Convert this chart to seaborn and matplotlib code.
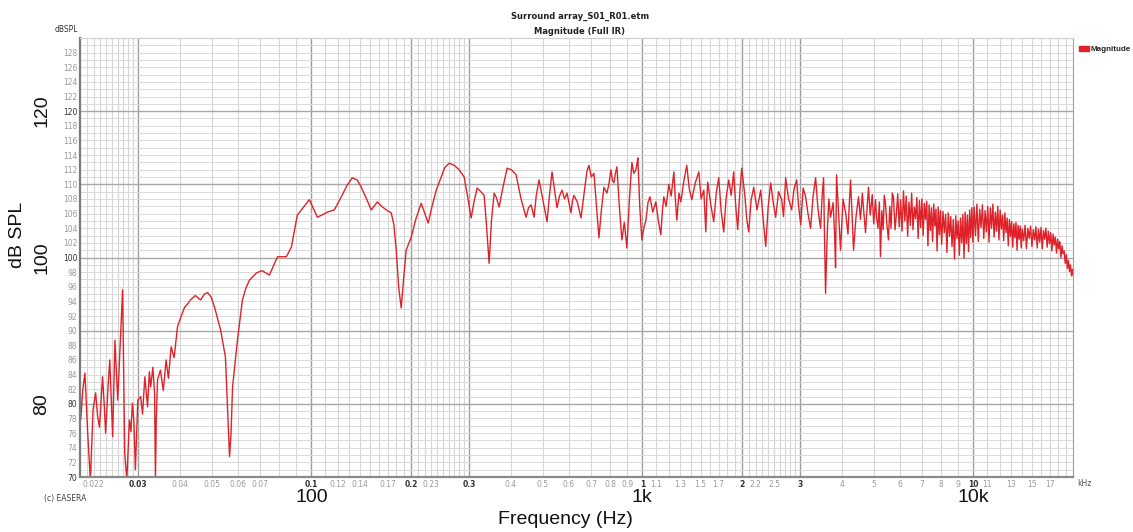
import matplotlib
matplotlib.use('Agg')
import numpy as np
import pandas as pd
import matplotlib.pyplot as plt
import seaborn as sns
from matplotlib.patches import Patch
from matplotlib.ticker import NullLocator

# magnitude trace (Hz, dB SPL)
# low end 20 Hz - 100 Hz
freq_low = [20.0, 20.1, 20.4, 20.7, 21.1, 21.5, 21.9, 22.3, 22.6, 22.9,
            23.4, 23.7, 23.9, 24.3, 24.6, 25.1, 25.5, 26.0, 26.5, 26.9,
            27.1, 27.3, 27.7, 28.2, 28.5, 28.8, 29.1, 29.4, 29.9, 30.5,
            30.9, 31.4, 32.0, 32.4, 32.7, 33.2, 33.6, 33.8, 34.0, 34.3,
            35.0, 35.7, 36.4, 37.0, 37.7, 38.5, 39.4, 40.3, 41.4, 42.2,
            43.1, 44.6, 46.3, 47.5, 48.6, 49.8, 51.0, 53.2, 55.0, 56.0,
            56.6, 57.2, 57.8, 59.8, 61.9, 63.4, 65.0, 68.3, 71.0, 74.7,
            79.0, 84.0, 87.0, 90.7, 98.6]
spl_low = [84.6, 77.8, 82.0, 84.2, 76.0, 69.5, 79.2, 81.5, 78.4, 76.8,
           83.7, 79.5, 76.0, 82.2, 86.0, 75.5, 88.7, 80.5, 89.1, 95.6,
           84.0, 73.3, 69.5, 77.8, 76.2, 80.1, 77.5, 71.0, 80.5, 81.0,
           78.6, 83.7, 79.6, 84.4, 82.3, 85.0, 81.5, 69.5, 78.0, 83.3,
           84.6, 81.8, 86.0, 83.5, 87.8, 86.3, 90.5, 91.8, 93.2, 93.6,
           94.2, 94.8, 94.2, 95.0, 95.2, 94.6, 93.2, 90.1, 86.4, 78.0,
           72.8, 76.0, 82.3, 88.7, 94.2, 95.8, 96.9, 97.9, 98.2, 97.6,
           100.1, 100.1, 101.4, 105.8, 107.9]

# 100 Hz - 1 kHz
freq_mid = [104.3, 111.8, 117.3, 123.2, 128.0, 132.9, 137.6, 141.5, 146.5, 151.7,
            158.2, 163.0, 168.4, 174.3, 177.5, 180.5, 183.5, 186.8, 189.5, 193.4,
            200.3, 207.0, 214.7, 219.5, 225.4, 231.0, 238.3, 246.7, 253.0, 260.9,
            270.0, 279.6, 289.5, 296.0, 303.9, 310.0, 316.8, 325.0, 332.6, 338.0,
            344.4, 350.0, 356.6, 362.0, 369.2, 378.0, 390.3, 402.0, 415.5, 430.0,
            445.3, 453.0, 461.1, 470.8, 478.0, 487.4, 500.0, 515.3, 524.0, 533.5,
            543.0, 552.3, 562.0, 571.9, 582.0, 592.1, 600.0, 608.8, 615.0, 621.6,
            637.0, 652.5, 668.0, 680.0, 689.7, 701.0, 714.1, 727.0, 739.3, 752.0,
            765.4, 781.5, 792.0, 803.5, 812.0, 820.4, 829.0, 837.7, 852.0, 867.3,
            882.0, 898.0, 914.0, 929.8, 942.0, 955.9, 963.0, 969.2, 982.0]
spl_mid = [105.5, 106.2, 106.5, 108.3, 109.8, 110.9, 110.6, 109.6, 108.1, 106.5,
           107.6, 107.0, 106.5, 106.1, 104.5, 101.0, 96.0, 93.1, 96.5, 101.0,
           102.8, 105.3, 107.4, 106.2, 104.7, 106.8, 109.2, 111.0, 112.3, 112.9,
           112.6, 112.0, 111.0, 108.5, 105.4, 107.6, 109.5, 109.0, 108.5, 104.5,
           99.2, 105.0, 108.8, 108.2, 106.9, 109.3, 112.2, 112.0, 111.3, 108.0,
           105.5, 106.8, 107.2, 105.5, 108.5, 110.6, 108.0, 104.9, 108.5, 111.7,
           109.2, 106.8, 108.4, 109.2, 108.0, 108.8, 107.5, 106.1, 107.8, 108.5,
           107.5, 105.4, 109.0, 111.8, 112.6, 111.0, 111.5, 107.0, 102.7, 106.5,
           109.6, 108.8, 110.0, 112.0, 110.5, 110.2, 111.5, 112.4, 107.0, 102.4,
           104.8, 101.3, 108.0, 113.0, 111.5, 112.0, 112.8, 113.6, 107.0]

# 1 kHz - 5.8 kHz
freq_khz = [996.5, 1010, 1025, 1040, 1054, 1075, 1098, 1118, 1137, 1150,
            1161, 1180, 1202, 1222, 1245, 1258, 1271, 1290, 1307, 1335,
            1362, 1385, 1410, 1445, 1481, 1505, 1533, 1545, 1555, 1566,
            1576, 1610, 1643, 1672, 1701, 1730, 1761, 1790, 1823, 1855,
            1888, 1915, 1941, 1970, 1996, 2040, 2070, 2096, 2130, 2170,
            2220, 2278, 2320, 2359, 2400, 2442, 2485, 2528, 2580, 2636,
            2670, 2710, 2765, 2825, 2870, 2925, 2965, 3010, 3060, 3113,
            3165, 3223, 3280, 3337, 3395, 3455, 3490, 3528, 3550, 3577,
            3620, 3660, 3703, 3770, 3810, 3834, 3848, 3861, 3910, 3969,
            4040, 4110, 4180, 4220, 4255, 4300, 4345, 4420, 4498, 4560,
            4620, 4670, 4723, 4770, 4822, 4880, 4950, 5000, 5062, 5100,
            5150, 5200, 5241, 5290, 5340, 5380, 5426, 5480, 5540, 5590,
            5640, 5690, 5736, 5800]
spl_khz = [102.4, 104.0, 105.1, 107.5, 108.3, 106.2, 107.6, 105.0, 103.1, 106.5,
           108.3, 107.0, 110.0, 108.4, 111.7, 108.0, 105.1, 108.8, 107.6, 110.5,
           112.6, 109.5, 107.9, 110.2, 111.7, 108.0, 109.2, 106.0, 103.5, 108.0,
           110.3, 107.2, 104.9, 108.8, 110.9, 106.4, 103.5, 108.0, 110.6, 108.5,
           111.7, 107.0, 103.8, 109.0, 112.2, 108.5, 105.0, 103.5, 107.8, 109.6,
           106.5, 109.2, 105.0, 101.5, 107.0, 110.2, 107.5, 105.5, 109.0, 107.9,
           105.6, 110.9, 108.0, 106.5, 109.3, 110.6, 107.0, 104.5, 109.5, 108.3,
           106.0, 104.0, 108.4, 110.9, 106.5, 104.0, 108.2, 110.9, 103.0, 95.1,
           103.5, 108.0, 105.5, 107.5, 103.0, 98.6, 105.0, 111.3, 106.5, 101.0,
           108.0, 106.2, 103.2, 107.4, 110.6, 106.0, 101.0, 105.5, 108.3, 105.2,
           108.8, 106.0, 103.4, 106.5, 109.6, 105.8, 108.6, 104.6, 107.9, 105.5,
           104.0, 107.6, 100.1, 106.4, 103.8, 108.5, 107.4, 104.5, 102.4, 107.0,
           104.0, 108.8, 108.3, 103.8]

# top end 5.85 kHz - 20 kHz, dense noisy band
freq_high = [5850, 5910, 5970, 6030, 6090, 6150, 6210, 6270, 6330, 6390,
             6450, 6510, 6570, 6630, 6690, 6750, 6810, 6870, 6930, 6990,
             7050, 7110, 7170, 7230, 7290, 7350, 7410, 7470, 7530, 7590,
             7650, 7710, 7770, 7830, 7890, 7950,
             8020, 8095, 8170, 8245, 8320, 8395, 8470, 8545, 8620, 8695,
             8770, 8845, 8920, 8995, 9070, 9145, 9220, 9295, 9370, 9445,
             9520, 9595, 9670, 9745, 9820, 9895, 9970,
             10050, 10150, 10250, 10350, 10450, 10550, 10650, 10750, 10850, 10950,
             11050, 11150, 11250, 11350, 11450, 11550, 11650, 11750, 11850, 11950,
             12050, 12150, 12250, 12350, 12450, 12550, 12650, 12750, 12850, 12950,
             13050, 13150, 13250, 13350, 13450, 13550, 13650, 13750, 13850, 13950,
             14050, 14190, 14330, 14470, 14610, 14750, 14890, 15030, 15170, 15310,
             15450, 15590, 15730, 15870, 16010, 16150, 16290, 16430, 16570, 16710,
             16850, 16990, 17130, 17270, 17410, 17550, 17690, 17830, 17970, 18110,
             18250, 18390, 18530, 18670, 18810, 18950, 19090, 19230, 19370, 19510,
             19650, 19790, 19930, 20000]
spl_high = [105.8, 108.7, 104.2, 107.9, 103.6, 109.1, 105.0, 108.4, 102.9, 107.6,
            104.4, 108.8, 103.8, 106.9, 105.3, 108.2, 102.6, 107.8, 104.1, 108.0,
            103.0, 107.4, 105.2, 107.7, 101.6, 107.2, 103.7, 106.8, 102.2, 107.3,
            104.3, 106.6, 100.9, 106.9, 103.1, 106.4,
            101.8, 106.3, 103.4, 105.9, 100.7, 106.1, 102.9, 105.6, 101.5, 105.2,
            99.8, 105.7, 102.6, 105.0, 100.3, 105.4, 102.0, 105.9, 99.9, 106.2,
            101.9, 105.8, 100.8, 106.5, 102.7, 106.8, 102.1,
            106.9, 103.0, 107.3, 102.2, 106.6, 104.1, 107.2, 102.6, 106.4, 103.5,
            107.0, 102.1, 106.8, 104.0, 107.3, 102.8, 106.2, 103.6, 107.0, 102.4,
            106.5, 103.9, 105.8, 102.3, 106.1, 103.4, 105.4, 101.6, 105.2, 102.9,
            104.9, 101.4, 104.6, 102.7, 104.8, 101.0, 104.4, 102.5, 104.3, 101.3,
            103.9, 102.3, 104.4, 101.2, 104.0, 102.6, 104.3, 101.5, 103.8, 102.4,
            104.2, 101.3, 103.9, 102.1, 104.1, 101.2, 103.7, 102.5, 104.0, 101.4,
            103.6, 101.9, 103.4, 100.9, 103.2, 101.7, 102.8, 100.6, 102.5, 101.2,
            102.2, 100.0, 101.6, 100.5, 100.9, 99.2, 100.4, 98.5, 99.6, 98.1,
            99.0, 97.5, 98.4, 97.6]

# inner tick labels (kHz), as EASERA prints them
x_tick_vals = [22, 30, 40, 50, 60, 70, 100, 120, 140, 170, 200, 230, 300,
               400, 500, 600, 700, 800, 900, 1000, 1100, 1300, 1500, 1700,
               2000, 2200, 2500, 3000, 4000, 5000, 6000, 7000, 8000, 9000,
               10000, 11000, 13000, 15000, 17000]
x_tick_text = ['0.022', '0.03', '0.04', '0.05', '0.06', '0.07', '0.1', '0.12',
               '0.14', '0.17', '0.2', '0.23', '0.3', '0.4', '0.5', '0.6', '0.7',
               '0.8', '0.9', '1', '1.1', '1.3', '1.5', '1.7', '2', '2.2', '2.5',
               '3', '4', '5', '6', '7', '8', '9', '10', '11', '13', '15', '17']
x_bold = ['0.03', '0.1', '0.2', '0.3', '1', '2', '3', '10']
y_tick_vals = list(range(70, 130, 2))
y_bold = ['70', '80', '100', '120']

# outer labels
outer_y = ['80', '100', '120']
outer_x = ['100', '1k', '10k']
outer_x_pos = [100, 1000, 10000]

W, H = 1133, 532


def fx(px):
    return px / W


def fy(py):
    return 1 - py / H


sns.set_style('white')
plt.rcParams['font.family'] = ['DejaVu Sans']

df = pd.DataFrame({'freq': freq_low + freq_mid + freq_khz + freq_high,
                   'spl': spl_low + spl_mid + spl_khz + spl_high})

fig = plt.figure(figsize=(W / 100, H / 100), dpi=100)
ax = fig.add_axes([fx(80), fy(477), fx(1073 - 80), (477 - 38) / H])

# grid like the EASERA display
minor_v = (list(range(21, 30)) + list(range(40, 100, 10)) + list(range(110, 200, 10))
           + list(range(210, 300, 10)) + list(range(400, 1000, 100))
           + list(range(1100, 2000, 100)) + list(range(2100, 3000, 100))
           + list(range(4000, 10000, 1000)) + list(range(11000, 20000, 1000)))
major_v = [30, 100, 200, 300, 1000, 2000, 3000, 10000]
for f in minor_v:
    ax.axvline(f, color='#d6d6d6', lw=0.8, zorder=0)
for f in major_v:
    ax.axvline(f, color='#9c9c9c', lw=1.0, zorder=0)
for v in range(71, 130):
    if v % 10 == 0:
        ax.axhline(v, color='#a8a8a8', lw=1.0, zorder=0)
    else:
        ax.axhline(v, color='#dadada', lw=0.7, zorder=0)

sns.lineplot(data=df, x='freq', y='spl', ax=ax, color='#df2229', lw=1.0,
             estimator=None, sort=False, legend=False)
ax.set_xscale('log')
ax.set_xlim(20, 20000)
ax.set_ylim(70, 130)
ax.set_xlabel('')
ax.set_ylabel('')

ax.set_xticks(x_tick_vals)
ax.set_xticklabels(x_tick_text, fontsize=5.5, color='#9a9a9a')
ax.xaxis.set_minor_locator(NullLocator())
ax.set_yticks(y_tick_vals)
ax.set_yticklabels([str(v) for v in y_tick_vals], fontsize=5.5, color='#9a9a9a')
ax.tick_params(length=0, pad=2)
for lab in ax.get_xticklabels():
    if lab.get_text() in x_bold:
        lab.set_color('#333333')
        lab.set_fontweight('bold')
for lab in ax.get_yticklabels():
    if lab.get_text() in y_bold:
        lab.set_color('#333333')

ax.spines['left'].set_color('#7a7a7a')
ax.spines['left'].set_linewidth(1.6)
ax.spines['bottom'].set_color('#8a8a8a')
ax.spines['bottom'].set_linewidth(1.6)
ax.spines['top'].set_color('#cfcfcf')
ax.spines['top'].set_linewidth(0.8)
ax.spines['right'].set_color('#a0a0a0')
ax.spines['right'].set_linewidth(0.8)

ax.legend(handles=[Patch(color='#df2229', label='Magnitude')], loc='upper left',
          bbox_to_anchor=(1.003, 0.99), frameon=False,
          prop={'size': 5.8, 'weight': 'bold', 'family': 'Liberation Sans'},
          handlelength=1.2, handleheight=0.6, borderaxespad=0, handletextpad=0.25)

# header / small captions
fig.text(fx(580), fy(16), 'Surround array_S01_R01.etm', ha='center', va='center',
         fontsize=6, fontweight='bold', color='#222222')
fig.text(fx(580), fy(32), 'Magnitude (Full IR)', ha='center', va='center',
         fontsize=6, fontweight='bold', color='#222222')
fig.text(fx(55), fy(30), 'dBSPL', ha='left', va='center', fontsize=5.5, color='#333333')
fig.text(fx(44), fy(498), '(c) EASERA', ha='left', va='center', fontsize=5.5, color='#444444')
fig.text(fx(1077), fy(483), 'kHz', ha='left', va='center', fontsize=5.5, color='#555555')

# big outer labels
big = {'family': ['Liberation Sans', 'DejaVu Sans'], 'fontsize': 14, 'color': '#111111'}
for lab in outer_y:
    yy = ax.transData.transform((20, float(lab)))[1]
    fig.text(fx(42), yy / H, lab, ha='center', va='center', rotation=90, **big)
for lab, pos in zip(outer_x, outer_x_pos):
    xx = ax.transData.transform((pos, 70))[0]
    fig.text(xx / W, fy(497), lab, ha='center', va='center', **big)
fig.text(fx(17), fy(235), 'dB SPL', ha='center', va='center', rotation=90, **big)
fig.text(fx(565), fy(519), 'Frequency (Hz)', ha='center', va='center', **big)

fig.savefig('out.png', dpi=100)
